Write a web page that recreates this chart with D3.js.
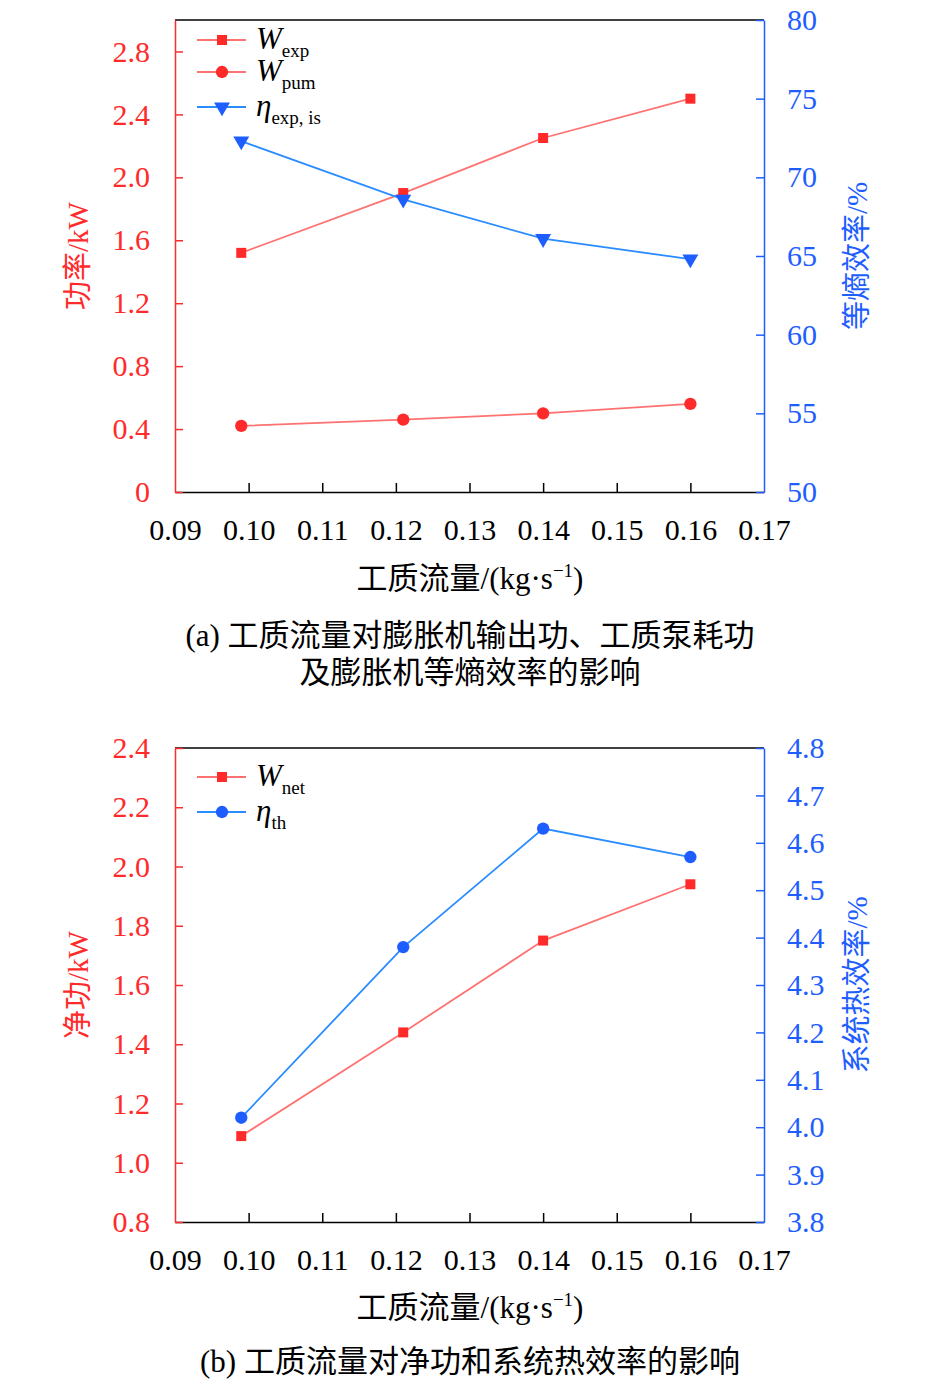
<!DOCTYPE html>
<html>
  <head>
    <meta charset="utf-8" />
    <title>工质流量</title>
    <script src="https://d3js.org/d3.v7.min.js"></script>
    <style>
      body { margin: 0; background: #fff; }
      text { font-family: "Liberation Serif", "Noto Sans CJK SC", serif; }
    </style>
  </head>
  <body>
    <svg width="945" height="1384" id="chart"></svg>
    <script>
      // data
      var flow = [0.099, 0.121, 0.140, 0.160];
      var wExp = [1.52, 1.90, 2.25, 2.50];
      var wPum = [0.42, 0.46, 0.50, 0.56];
      var etaExp = [72.3, 68.6, 66.1, 64.8];
      var wNet = [1.09, 1.44, 1.75, 1.94];
      var etaTh = [4.02, 4.38, 4.63, 4.57];

      var xTicks = [0.09, 0.10, 0.11, 0.12, 0.13, 0.14, 0.15, 0.16, 0.17];
      var leftTicksA = [0, 0.4, 0.8, 1.2, 1.6, 2.0, 2.4, 2.8];
      var rightTicksA = [50, 55, 60, 65, 70, 75, 80];
      var leftTicksB = [0.8, 1.0, 1.2, 1.4, 1.6, 1.8, 2.0, 2.2, 2.4];
      var rightTicksB = [3.8, 3.9, 4.0, 4.1, 4.2, 4.3, 4.4, 4.5, 4.6, 4.7, 4.8];

      var RED = "#ff2a2a", REDLINE = "#ff7272", BLUE = "#1e5eff", BLUELINE = "#2a8cff";
      var svg = d3.select("#chart");

      var x = d3.scaleLinear().domain([0.09, 0.17]).range([175, 764]);

      function drawPanel(top, yL, yR, lTicks, rTicks, lFmt, rFmt, lLabel, rLabel, xLabelY) {
        var g = svg.append("g");
        var bottom = yL.range()[0];

        // top frame line
        g.append("line").attr("x1", 175).attr("x2", 764).attr("y1", top).attr("y2", top)
          .attr("stroke", "#000").attr("stroke-width", 1.5);

        // bottom axis, ticks pointing inward
        var xa = g.append("g").attr("transform", "translate(0," + bottom + ")")
          .call(d3.axisBottom(x).tickValues(xTicks).tickSizeInner(-9).tickSizeOuter(0)
            .tickFormat(d3.format(".2f")));
        xa.select(".domain").attr("stroke", "#000").attr("stroke-width", 1.5);
        xa.selectAll(".tick line").attr("stroke", "#000").attr("stroke-width", 1.5)
          .filter(function (d) { return d === 0.09 || d === 0.17; }).remove();
        xa.selectAll("text").attr("font-size", 30).attr("fill", "#000").attr("dy", 0).attr("y", 48);

        // left axis
        var la = g.append("g").attr("transform", "translate(175,0)")
          .call(d3.axisLeft(yL).tickValues(lTicks).tickSizeInner(-8).tickSizeOuter(0).tickFormat(lFmt));
        la.select(".domain").attr("stroke", RED).attr("stroke-width", 1.5);
        la.selectAll(".tick line").attr("stroke", RED).attr("stroke-width", 1.5);
        la.selectAll("text").attr("font-size", 30).attr("fill", RED).attr("x", -25);

        // right axis
        var ra = g.append("g").attr("transform", "translate(764,0)")
          .call(d3.axisRight(yR).tickValues(rTicks).tickSizeInner(-8).tickSizeOuter(0).tickFormat(rFmt));
        ra.select(".domain").attr("stroke", BLUE).attr("stroke-width", 1.5);
        ra.selectAll(".tick line").attr("stroke", BLUE).attr("stroke-width", 1.5);
        ra.selectAll("text").attr("font-size", 30).attr("fill", BLUE).attr("x", 23);

        // axis titles
        var midY = (top + bottom) / 2;
        g.append("text").attr("transform", "translate(88," + midY + ") rotate(-90)")
          .attr("text-anchor", "middle").attr("font-size", 29).attr("fill", RED).text(lLabel);
        g.append("text").attr("transform", "translate(867," + midY + ") rotate(-90)")
          .attr("text-anchor", "middle").attr("font-size", 29).attr("fill", BLUE).text(rLabel);

        var xl = g.append("text").attr("x", 470).attr("y", xLabelY).attr("text-anchor", "middle")
          .attr("font-size", 31).attr("fill", "#000");
        xl.append("tspan").text("工质流量/(kg·s");
        xl.append("tspan").attr("dy", -12).attr("font-size", 19).text("−1");
        xl.append("tspan").attr("dy", 12).text(")");
        return g;
      }

      function series(g, xs, ys, yScale, lineColor, markColor, shape) {
        var pts = xs.map(function (d, i) { return [x(d), yScale(ys[i])]; });
        g.append("path").attr("d", d3.line()(pts)).attr("fill", "none")
          .attr("stroke", lineColor).attr("stroke-width", 1.8);
        marks(g, pts, markColor, shape);
      }

      function marks(g, pts, color, shape) {
        var sym = { square: d3.symbolSquare, circle: d3.symbolCircle, tri: d3.symbolTriangle }[shape];
        var size = { square: 100, circle: 120, tri: 110 }[shape];
        g.selectAll(null).data(pts).enter().append("path")
          .attr("transform", function (p) {
            return "translate(" + p[0] + "," + p[1] + ")" + (shape === "tri" ? " rotate(180)" : "");
          })
          .attr("d", d3.symbol().type(sym).size(size)).attr("fill", color);
      }

      function legendItem(g, y, lineColor, markColor, shape, main, sub) {
        g.append("line").attr("x1", 197).attr("x2", 246).attr("y1", y).attr("y2", y)
          .attr("stroke", lineColor).attr("stroke-width", 1.8);
        marks(g, [[222, y]], markColor, shape);
        var t = g.append("text").attr("x", 256).attr("y", y + 9).attr("font-size", 31).attr("fill", "#000");
        t.append("tspan").attr("font-style", "italic").text(main);
        t.append("tspan").attr("dy", 8).attr("font-size", 19).text(sub);
      }

      // ---- panel (a)
      var yLA = d3.scaleLinear().domain([0, 3.0]).range([492, 20]);
      var yRA = d3.scaleLinear().domain([50, 80]).range([492, 20]);
      var ga = drawPanel(20, yLA, yRA, leftTicksA, rightTicksA,
        function (d) { return d === 0 ? "0" : d3.format(".1f")(d); }, d3.format("d"),
        "功率/kW", "等熵效率/%", 589);
      series(ga, flow, wExp, yLA, REDLINE, RED, "square");
      series(ga, flow, wPum, yLA, REDLINE, RED, "circle");
      series(ga, flow, etaExp, yRA, BLUELINE, BLUE, "tri");
      legendItem(ga, 40, REDLINE, RED, "square", "W", "exp");
      legendItem(ga, 72, REDLINE, RED, "circle", "W", "pum");
      legendItem(ga, 107, BLUELINE, BLUE, "tri", "η", "exp, is");

      svg.append("text").attr("x", 470).attr("y", 646).attr("text-anchor", "middle")
        .attr("font-size", 31).text("(a) 工质流量对膨胀机输出功、工质泵耗功");
      svg.append("text").attr("x", 470).attr("y", 683).attr("text-anchor", "middle")
        .attr("font-size", 31).text("及膨胀机等熵效率的影响");

      // ---- panel (b)
      var yLB = d3.scaleLinear().domain([0.8, 2.4]).range([1222, 748]);
      var yRB = d3.scaleLinear().domain([3.8, 4.8]).range([1222, 748]);
      var gb = drawPanel(748, yLB, yRB, leftTicksB, rightTicksB,
        d3.format(".1f"), d3.format(".1f"), "净功/kW", "系统热效率/%", 1318);
      series(gb, flow, wNet, yLB, REDLINE, RED, "square");
      series(gb, flow, etaTh, yRB, BLUELINE, BLUE, "circle");
      legendItem(gb, 777, REDLINE, RED, "square", "W", "net");
      legendItem(gb, 812, BLUELINE, BLUE, "circle", "η", "th");

      svg.append("text").attr("x", 470).attr("y", 1372).attr("text-anchor", "middle")
        .attr("font-size", 31).text("(b) 工质流量对净功和系统热效率的影响");
    </script>
  </body>
</html>
